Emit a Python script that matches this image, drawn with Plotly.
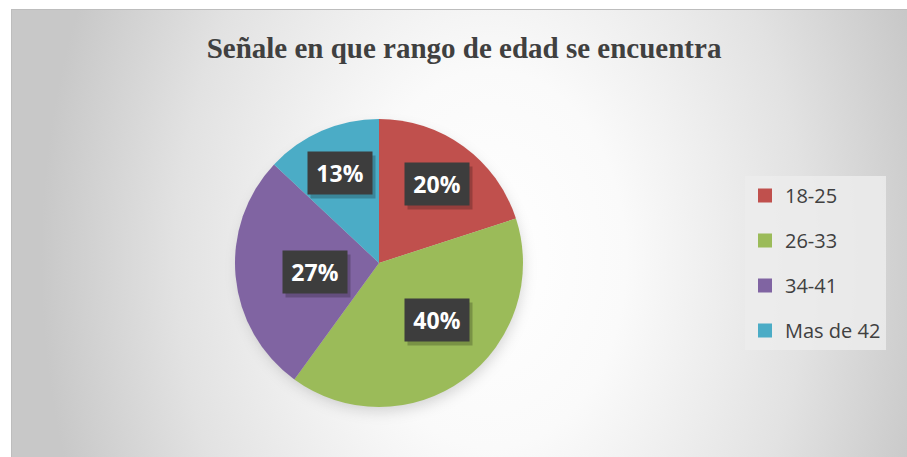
import base64, math
import plotly.graph_objects as go

# ---- data ----
categories = ["18-25", "26-33", "34-41", "Mas de 42"]
percentages = [20, 40, 27, 13]
colors = ["#C0504D", "#9BBB59", "#8064A2", "#4BACC6"]
title_text = "Señale en que rango de edad se encuentra"

W, H = 907, 457
# chart area (pixels)
AX0, AY0 = 11, 9
AW, AH = W - AX0, H - AY0
# pie geometry (pixels)
PCX, PCY, PR = 379, 263, 144

# background: radial gradient + soft pie shadow
svg = f'''<svg xmlns="http://www.w3.org/2000/svg" width="{AW}" height="{AH}" viewBox="0 0 {AW} {AH}">
<defs>
<radialGradient id="g" gradientUnits="userSpaceOnUse" cx="480" cy="250" r="450"
 gradientTransform="translate(480,250) scale(1,1.4) translate(-480,-250)">
<stop offset="0" stop-color="#ffffff"/>
<stop offset="0.3" stop-color="#fafafa"/>
<stop offset="0.7" stop-color="#e2e2e2"/>
<stop offset="1" stop-color="#c8c8c8"/>
</radialGradient>
<filter id="b" x="-30%" y="-30%" width="160%" height="160%"><feGaussianBlur stdDeviation="7"/></filter>
</defs>
<rect width="{AW}" height="{AH}" fill="url(#g)"/>
<line x1="0" y1="0.5" x2="{AW}" y2="0.5" stroke="#bdbdbd" stroke-width="1"/>
<line x1="0.5" y1="0" x2="0.5" y2="{AH}" stroke="#bdbdbd" stroke-width="1"/>
<circle cx="{PCX-AX0+2}" cy="{PCY-AY0+6}" r="{PR-2}" fill="#000" fill-opacity="0.16" filter="url(#b)"/>
</svg>'''
src = "data:image/svg+xml;base64," + base64.b64encode(svg.encode()).decode()

fig = go.Figure()
fig.add_trace(go.Pie(
    labels=categories, values=percentages, sort=False, direction="clockwise",
    rotation=0, marker=dict(colors=colors, line=dict(width=0)),
    textinfo="none", hoverinfo="label+percent", showlegend=False,
    domain=dict(x=[(PCX - PR) / W, (PCX + PR) / W],
                y=[(H - PCY - PR) / H, (H - PCY + PR) / H]),
))

# legend built with dummy traces (one group per item for spacing)
for i, (c, col) in enumerate(zip(categories, colors)):
    fig.add_trace(go.Scatter(
        x=[None], y=[None], mode="markers", name=c, legendgroup=f"g{i}",
        marker=dict(symbol="square", size=14, color=col), showlegend=True,
    ))

# data labels with dark boxes at slice mid-angles
annotations = []
total = sum(percentages)
cum = 0
for v in percentages:
    mid = (cum + v / 2) / total * 2 * math.pi
    cum += v
    lx = PCX + 0.68 * PR * math.sin(mid)
    ly = PCY - 0.68 * PR * math.cos(mid)
    # shadow box
    annotations.append(dict(
        x=(lx + 3) / W, y=1 - (ly + 4) / H, xref="paper", yref="paper",
        text=" ", showarrow=False, width=64, height=42, borderpad=0,
        bgcolor="rgba(0,0,0,0.22)", font=dict(size=10)))
    annotations.append(dict(
        x=lx / W, y=1 - ly / H, xref="paper", yref="paper",
        text=f"<b>{round(v / total * 100)}%</b>", showarrow=False,
        width=64, height=42, borderpad=0, bgcolor="#3d3d3d",
        font=dict(family="Open Sans", size=23, color="#ffffff")))

fig.update_layout(
    width=W, height=H,
    margin=dict(l=0, r=0, t=0, b=0, autoexpand=False),
    paper_bgcolor="#ffffff", plot_bgcolor="rgba(0,0,0,0)",
    xaxis=dict(visible=False), yaxis=dict(visible=False),
    title=dict(text=f"<b>{title_text}</b>", x=464 / W, xanchor="center",
               y=1 - 48 / H, yanchor="middle", xref="container", yref="container",
               font=dict(family="Liberation Serif", size=29, color="#404040")),
    legend=dict(x=745 / W, y=1 - 176 / H, xanchor="left", yanchor="top",
                xref="paper", yref="paper", entrywidth=118, entrywidthmode="pixels",
                bgcolor="rgba(236,236,236,0.85)", tracegroupgap=16,
                font=dict(family="Open Sans", size=20, color="#404040")),
    images=[dict(source=src, xref="paper", yref="paper", x=AX0 / W, y=1 - AY0 / H,
                 sizex=AW / W, sizey=AH / H, sizing="stretch", layer="below",
                 xanchor="left", yanchor="top")],
    annotations=annotations,
    showlegend=True,
)

fig.write_html("out.html", config={"displayModeBar": False},
               post_script="document.body.style.margin='0';")
